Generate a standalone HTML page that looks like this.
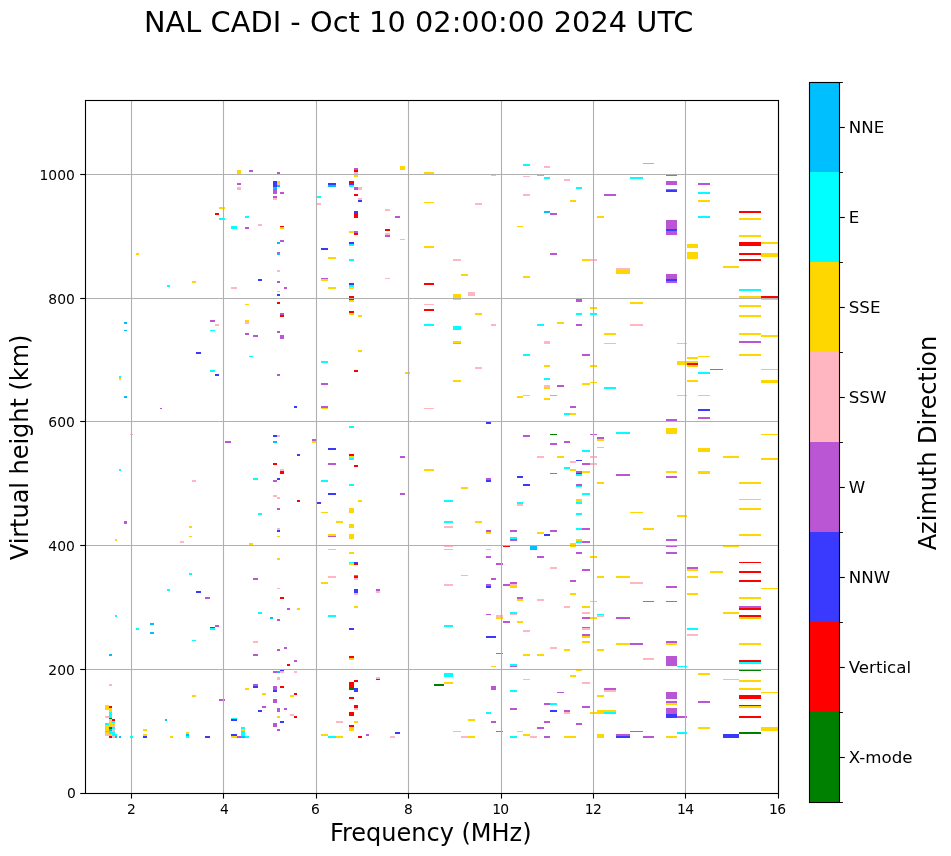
<!DOCTYPE html>
<html lang="en"><head><meta charset="utf-8"><title>NAL CADI - Oct 10 02:00:00 2024 UTC</title>
<style>
html,body{margin:0;padding:0;background:#fff;}
body{width:951px;height:856px;overflow:hidden;}
svg{display:block;}
text{font-family:"DejaVu Sans","Liberation Sans",sans-serif;fill:#000;}
.tk{font-size:13.89px;}
.lab{font-size:24px;}
.ttl{font-size:28.8px;}
.cbt{font-size:16.67px;}
.grid line{stroke:#b0b0b0;stroke-width:1.11;}
.ticks line{stroke:#000;stroke-width:1.11;}
.data rect{shape-rendering:crispEdges;}
</style></head><body>
<svg width="951" height="856" viewBox="0 0 951 856">
<rect x="0" y="0" width="951" height="856" fill="#fff"/>
<text class="ttl" x="418.75" y="31.9" text-anchor="middle" style="letter-spacing:0.033px">NAL CADI - Oct 10 02:00:00 2024 UTC</text>
<g class="data">
<rect x="237" y="170" width="4" height="4" fill="#ffd700"/>
<rect x="237" y="183" width="4" height="2" fill="#ba55d3"/>
<rect x="237" y="187" width="4" height="2" fill="#ffb6c1"/>
<rect x="237" y="189" width="4" height="1" fill="#ffd700"/>
<rect x="219" y="207" width="6" height="2" fill="#ffd700"/>
<rect x="215" y="213" width="4" height="2" fill="#ff0000"/>
<rect x="219" y="218" width="6" height="2" fill="#00ffff"/>
<rect x="231" y="226" width="6" height="3" fill="#00ffff"/>
<rect x="245" y="216" width="4" height="2" fill="#00ffff"/>
<rect x="245" y="227" width="4" height="2" fill="#ba55d3"/>
<rect x="136" y="253" width="3" height="2" fill="#ffd700"/>
<rect x="192" y="281" width="4" height="2" fill="#ffd700"/>
<rect x="167" y="285" width="3" height="2" fill="#00ffff"/>
<rect x="231" y="287" width="6" height="2" fill="#ffb6c1"/>
<rect x="249" y="170" width="4" height="2" fill="#ba55d3"/>
<rect x="277" y="172" width="3" height="2" fill="#ba55d3"/>
<rect x="273" y="181" width="4" height="6" fill="#3a3aff"/>
<rect x="273" y="187" width="4" height="2" fill="#00bfff"/>
<rect x="273" y="189" width="4" height="5" fill="#ba55d3"/>
<rect x="277" y="181" width="3" height="2" fill="#ffd700"/>
<rect x="277" y="183" width="3" height="2" fill="#ffb6c1"/>
<rect x="277" y="185" width="3" height="2" fill="#00bfff"/>
<rect x="280" y="192" width="4" height="2" fill="#ba55d3"/>
<rect x="273" y="196" width="4" height="2" fill="#ba55d3"/>
<rect x="273" y="198" width="4" height="2" fill="#ffb6c1"/>
<rect x="258" y="224" width="4" height="2" fill="#ffb6c1"/>
<rect x="280" y="226" width="4" height="1" fill="#ff0000"/>
<rect x="280" y="227" width="4" height="2" fill="#ffd700"/>
<rect x="280" y="240" width="4" height="2" fill="#ba55d3"/>
<rect x="277" y="242" width="3" height="2" fill="#00bfff"/>
<rect x="277" y="252" width="3" height="1" fill="#ba55d3"/>
<rect x="277" y="253" width="3" height="2" fill="#00bfff"/>
<rect x="277" y="270" width="3" height="2" fill="#ffb6c1"/>
<rect x="258" y="279" width="4" height="2" fill="#3a3aff"/>
<rect x="277" y="281" width="3" height="2" fill="#ba55d3"/>
<rect x="284" y="287" width="3" height="2" fill="#ba55d3"/>
<rect x="277" y="291" width="3" height="1" fill="#ffb6c1"/>
<rect x="277" y="294" width="3" height="2" fill="#3a3aff"/>
<rect x="245" y="304" width="4" height="1" fill="#ffd700"/>
<rect x="277" y="302" width="3" height="2" fill="#ff0000"/>
<rect x="354" y="168" width="4" height="2" fill="#ba55d3"/>
<rect x="354" y="170" width="4" height="2" fill="#ff0000"/>
<rect x="354" y="172" width="4" height="2" fill="#ffb6c1"/>
<rect x="354" y="175" width="4" height="2" fill="#ffd700"/>
<rect x="400" y="166" width="5" height="4" fill="#ffd700"/>
<rect x="349" y="181" width="5" height="2" fill="#ff0000"/>
<rect x="349" y="183" width="5" height="2" fill="#3a3aff"/>
<rect x="349" y="185" width="5" height="2" fill="#00ffff"/>
<rect x="328" y="183" width="8" height="2" fill="#3a3aff"/>
<rect x="328" y="185" width="8" height="2" fill="#00bfff"/>
<rect x="354" y="187" width="4" height="3" fill="#ba55d3"/>
<rect x="358" y="187" width="4" height="3" fill="#ffb6c1"/>
<rect x="354" y="194" width="4" height="2" fill="#ff0000"/>
<rect x="317" y="196" width="4" height="2" fill="#00ffff"/>
<rect x="358" y="198" width="4" height="2" fill="#ffb6c1"/>
<rect x="358" y="200" width="4" height="2" fill="#3a3aff"/>
<rect x="317" y="203" width="4" height="2" fill="#ffb6c1"/>
<rect x="385" y="209" width="5" height="2" fill="#ffb6c1"/>
<rect x="354" y="211" width="4" height="2" fill="#3a3aff"/>
<rect x="354" y="213" width="4" height="5" fill="#ff0000"/>
<rect x="395" y="216" width="5" height="2" fill="#ba55d3"/>
<rect x="385" y="229" width="5" height="2" fill="#ff0000"/>
<rect x="349" y="231" width="5" height="2" fill="#ffd700"/>
<rect x="354" y="231" width="4" height="2" fill="#ba55d3"/>
<rect x="354" y="233" width="4" height="2" fill="#ff0000"/>
<rect x="385" y="233" width="5" height="2" fill="#ffb6c1"/>
<rect x="385" y="235" width="5" height="2" fill="#ba55d3"/>
<rect x="400" y="239" width="5" height="1" fill="#ffd700"/>
<rect x="349" y="242" width="5" height="2" fill="#3a3aff"/>
<rect x="349" y="244" width="5" height="2" fill="#00ffff"/>
<rect x="321" y="248" width="7" height="2" fill="#3a3aff"/>
<rect x="328" y="257" width="8" height="2" fill="#ffd700"/>
<rect x="349" y="259" width="5" height="2" fill="#00ffff"/>
<rect x="321" y="278" width="7" height="1" fill="#ba55d3"/>
<rect x="321" y="279" width="7" height="2" fill="#ffd700"/>
<rect x="385" y="278" width="5" height="1" fill="#ffb6c1"/>
<rect x="349" y="283" width="5" height="2" fill="#3a3aff"/>
<rect x="349" y="285" width="5" height="2" fill="#00ffff"/>
<rect x="349" y="287" width="5" height="2" fill="#ffd700"/>
<rect x="328" y="287" width="8" height="2" fill="#ffd700"/>
<rect x="349" y="296" width="5" height="4" fill="#ff0000"/>
<rect x="349" y="300" width="5" height="2" fill="#ffd700"/>
<rect x="523" y="164" width="7" height="2" fill="#00ffff"/>
<rect x="544" y="166" width="6" height="2" fill="#ffb6c1"/>
<rect x="424" y="172" width="10" height="2" fill="#ffd700"/>
<rect x="491" y="175" width="5" height="1" fill="#ffd700"/>
<rect x="523" y="176" width="7" height="1" fill="#ffb6c1"/>
<rect x="537" y="175" width="7" height="1" fill="#00ffff"/>
<rect x="544" y="177" width="6" height="2" fill="#00ffff"/>
<rect x="564" y="179" width="4" height="2" fill="#ffb6c1"/>
<rect x="523" y="194" width="7" height="2" fill="#ffb6c1"/>
<rect x="424" y="202" width="10" height="1" fill="#ffd700"/>
<rect x="475" y="203" width="7" height="2" fill="#ffb6c1"/>
<rect x="544" y="211" width="6" height="2" fill="#00bfff"/>
<rect x="550" y="213" width="7" height="2" fill="#ba55d3"/>
<rect x="517" y="226" width="6" height="1" fill="#ffd700"/>
<rect x="424" y="246" width="10" height="2" fill="#ffd700"/>
<rect x="550" y="253" width="7" height="2" fill="#ba55d3"/>
<rect x="453" y="259" width="8" height="2" fill="#ffb6c1"/>
<rect x="461" y="274" width="7" height="2" fill="#ffd700"/>
<rect x="523" y="276" width="7" height="2" fill="#ffd700"/>
<rect x="424" y="283" width="10" height="2" fill="#ff0000"/>
<rect x="468" y="292" width="7" height="4" fill="#ffb6c1"/>
<rect x="453" y="294" width="8" height="6" fill="#ffd700"/>
<rect x="424" y="304" width="10" height="1" fill="#ffb6c1"/>
<rect x="564" y="179" width="6" height="2" fill="#ffb6c1"/>
<rect x="576" y="187" width="6" height="2" fill="#00ffff"/>
<rect x="570" y="200" width="6" height="2" fill="#ffd700"/>
<rect x="630" y="177" width="13" height="2" fill="#00ffff"/>
<rect x="604" y="194" width="12" height="2" fill="#ba55d3"/>
<rect x="597" y="216" width="7" height="2" fill="#ffd700"/>
<rect x="666" y="175" width="11" height="1" fill="#ba55d3"/>
<rect x="666" y="181" width="11" height="4" fill="#ba55d3"/>
<rect x="666" y="189" width="11" height="1" fill="#ba55d3"/>
<rect x="666" y="190" width="11" height="2" fill="#3a3aff"/>
<rect x="666" y="220" width="11" height="9" fill="#ba55d3"/>
<rect x="666" y="229" width="11" height="2" fill="#3a3aff"/>
<rect x="666" y="231" width="11" height="4" fill="#ba55d3"/>
<rect x="666" y="274" width="11" height="5" fill="#ba55d3"/>
<rect x="666" y="279" width="11" height="2" fill="#3a3aff"/>
<rect x="666" y="281" width="11" height="2" fill="#ba55d3"/>
<rect x="698" y="183" width="12" height="2" fill="#ba55d3"/>
<rect x="698" y="192" width="12" height="2" fill="#00ffff"/>
<rect x="698" y="200" width="12" height="2" fill="#ffd700"/>
<rect x="698" y="216" width="12" height="2" fill="#00ffff"/>
<rect x="687" y="244" width="11" height="4" fill="#ffd700"/>
<rect x="687" y="252" width="11" height="7" fill="#ffd700"/>
<rect x="723" y="266" width="5" height="2" fill="#ffd700"/>
<rect x="582" y="259" width="8" height="2" fill="#ffd700"/>
<rect x="590" y="259" width="7" height="2" fill="#ffb6c1"/>
<rect x="616" y="268" width="14" height="2" fill="#ffb6c1"/>
<rect x="616" y="270" width="14" height="4" fill="#ffd700"/>
<rect x="576" y="299" width="6" height="3" fill="#ba55d3"/>
<rect x="630" y="302" width="13" height="2" fill="#ffd700"/>
<rect x="739" y="211" width="22" height="2" fill="#ff0000"/>
<rect x="739" y="218" width="22" height="2" fill="#ffd700"/>
<rect x="739" y="235" width="22" height="2" fill="#ffd700"/>
<rect x="739" y="242" width="22" height="4" fill="#ff0000"/>
<rect x="761" y="242" width="17" height="2" fill="#ffd700"/>
<rect x="739" y="253" width="22" height="2" fill="#ff0000"/>
<rect x="761" y="253" width="17" height="4" fill="#ffd700"/>
<rect x="739" y="259" width="22" height="2" fill="#ff0000"/>
<rect x="723" y="266" width="16" height="2" fill="#ffd700"/>
<rect x="739" y="289" width="22" height="2" fill="#00ffff"/>
<rect x="739" y="296" width="22" height="2" fill="#ffd700"/>
<rect x="761" y="296" width="17" height="2" fill="#ff0000"/>
<rect x="761" y="299" width="17" height="1" fill="#ffd700"/>
<rect x="739" y="305" width="22" height="2" fill="#ffd700"/>
<rect x="124" y="322" width="3" height="2" fill="#00bfff"/>
<rect x="124" y="330" width="3" height="1" fill="#00bfff"/>
<rect x="119" y="376" width="2" height="2" fill="#00ffff"/>
<rect x="119" y="378" width="2" height="2" fill="#ffd700"/>
<rect x="124" y="396" width="3" height="2" fill="#00bfff"/>
<rect x="160" y="408" width="2" height="1" fill="#ba55d3"/>
<rect x="130" y="434" width="3" height="1" fill="#ffb6c1"/>
<rect x="210" y="320" width="5" height="2" fill="#ba55d3"/>
<rect x="215" y="324" width="4" height="2" fill="#ffb6c1"/>
<rect x="210" y="330" width="5" height="1" fill="#00ffff"/>
<rect x="196" y="352" width="5" height="2" fill="#3a3aff"/>
<rect x="210" y="370" width="5" height="2" fill="#00ffff"/>
<rect x="215" y="374" width="4" height="2" fill="#3a3aff"/>
<rect x="225" y="441" width="6" height="2" fill="#ba55d3"/>
<rect x="280" y="313" width="4" height="2" fill="#ba55d3"/>
<rect x="280" y="315" width="4" height="2" fill="#ff0000"/>
<rect x="245" y="320" width="4" height="2" fill="#ffd700"/>
<rect x="245" y="322" width="4" height="2" fill="#ffb6c1"/>
<rect x="245" y="333" width="4" height="2" fill="#ba55d3"/>
<rect x="253" y="335" width="5" height="2" fill="#ba55d3"/>
<rect x="277" y="331" width="3" height="2" fill="#ba55d3"/>
<rect x="280" y="335" width="4" height="4" fill="#ba55d3"/>
<rect x="249" y="356" width="4" height="1" fill="#00ffff"/>
<rect x="277" y="374" width="3" height="2" fill="#ba55d3"/>
<rect x="294" y="406" width="3" height="2" fill="#3a3aff"/>
<rect x="273" y="435" width="4" height="2" fill="#3a3aff"/>
<rect x="277" y="435" width="3" height="2" fill="#ffb6c1"/>
<rect x="273" y="441" width="4" height="2" fill="#00bfff"/>
<rect x="312" y="439" width="4" height="2" fill="#ba55d3"/>
<rect x="312" y="441" width="4" height="2" fill="#ffd700"/>
<rect x="349" y="311" width="5" height="2" fill="#ff0000"/>
<rect x="349" y="313" width="5" height="2" fill="#ffd700"/>
<rect x="358" y="315" width="4" height="2" fill="#ffd700"/>
<rect x="358" y="350" width="4" height="2" fill="#ffd700"/>
<rect x="321" y="361" width="7" height="2" fill="#00ffff"/>
<rect x="354" y="370" width="4" height="2" fill="#ff0000"/>
<rect x="321" y="383" width="7" height="2" fill="#ba55d3"/>
<rect x="321" y="406" width="7" height="2" fill="#ba55d3"/>
<rect x="321" y="408" width="7" height="1" fill="#ffd700"/>
<rect x="349" y="426" width="5" height="2" fill="#00ffff"/>
<rect x="328" y="448" width="8" height="2" fill="#3a3aff"/>
<rect x="424" y="309" width="10" height="2" fill="#ff0000"/>
<rect x="475" y="313" width="7" height="2" fill="#ffd700"/>
<rect x="424" y="324" width="10" height="2" fill="#00ffff"/>
<rect x="453" y="326" width="8" height="4" fill="#00ffff"/>
<rect x="491" y="324" width="5" height="2" fill="#ffb6c1"/>
<rect x="453" y="341" width="8" height="2" fill="#ffd700"/>
<rect x="453" y="343" width="8" height="1" fill="#00ffff"/>
<rect x="475" y="367" width="7" height="2" fill="#ffb6c1"/>
<rect x="405" y="372" width="5" height="2" fill="#ffd700"/>
<rect x="453" y="380" width="8" height="2" fill="#ffd700"/>
<rect x="424" y="408" width="10" height="1" fill="#ffb6c1"/>
<rect x="486" y="422" width="5" height="2" fill="#3a3aff"/>
<rect x="537" y="324" width="7" height="2" fill="#00ffff"/>
<rect x="557" y="322" width="7" height="2" fill="#ffd700"/>
<rect x="544" y="341" width="6" height="3" fill="#ffb6c1"/>
<rect x="523" y="354" width="7" height="2" fill="#00ffff"/>
<rect x="544" y="365" width="6" height="2" fill="#ffd700"/>
<rect x="544" y="378" width="6" height="2" fill="#00ffff"/>
<rect x="544" y="385" width="6" height="2" fill="#ffb6c1"/>
<rect x="544" y="387" width="6" height="2" fill="#ffd700"/>
<rect x="557" y="385" width="7" height="2" fill="#ba55d3"/>
<rect x="517" y="396" width="6" height="2" fill="#ffd700"/>
<rect x="523" y="395" width="7" height="1" fill="#ffd700"/>
<rect x="550" y="395" width="7" height="1" fill="#00ffff"/>
<rect x="544" y="398" width="6" height="2" fill="#ffd700"/>
<rect x="564" y="413" width="4" height="2" fill="#00ffff"/>
<rect x="523" y="435" width="7" height="2" fill="#ba55d3"/>
<rect x="550" y="434" width="7" height="1" fill="#008000"/>
<rect x="550" y="443" width="7" height="2" fill="#ba55d3"/>
<rect x="564" y="441" width="4" height="2" fill="#ba55d3"/>
<rect x="590" y="307" width="7" height="2" fill="#ffd700"/>
<rect x="576" y="313" width="6" height="2" fill="#00ffff"/>
<rect x="590" y="313" width="7" height="2" fill="#00ffff"/>
<rect x="576" y="324" width="6" height="2" fill="#ba55d3"/>
<rect x="630" y="324" width="13" height="2" fill="#ffb6c1"/>
<rect x="604" y="333" width="12" height="2" fill="#ffd700"/>
<rect x="604" y="343" width="12" height="1" fill="#ffd700"/>
<rect x="677" y="343" width="10" height="1" fill="#ffd700"/>
<rect x="582" y="354" width="8" height="2" fill="#ba55d3"/>
<rect x="590" y="365" width="7" height="2" fill="#ffd700"/>
<rect x="590" y="382" width="7" height="1" fill="#ffd700"/>
<rect x="582" y="383" width="8" height="2" fill="#ffd700"/>
<rect x="604" y="387" width="12" height="2" fill="#00ffff"/>
<rect x="570" y="406" width="6" height="2" fill="#ba55d3"/>
<rect x="564" y="413" width="6" height="2" fill="#00ffff"/>
<rect x="570" y="413" width="6" height="2" fill="#ffd700"/>
<rect x="687" y="357" width="11" height="2" fill="#ffd700"/>
<rect x="698" y="356" width="12" height="1" fill="#ffd700"/>
<rect x="677" y="361" width="10" height="4" fill="#ffd700"/>
<rect x="687" y="361" width="11" height="2" fill="#ffd700"/>
<rect x="687" y="363" width="11" height="2" fill="#ff0000"/>
<rect x="687" y="365" width="11" height="2" fill="#ffd700"/>
<rect x="710" y="369" width="13" height="1" fill="#ba55d3"/>
<rect x="698" y="372" width="12" height="2" fill="#00ffff"/>
<rect x="687" y="380" width="11" height="2" fill="#ffd700"/>
<rect x="677" y="395" width="10" height="1" fill="#ffd700"/>
<rect x="698" y="395" width="12" height="1" fill="#ffd700"/>
<rect x="698" y="409" width="12" height="2" fill="#3a3aff"/>
<rect x="698" y="417" width="12" height="2" fill="#ba55d3"/>
<rect x="666" y="419" width="11" height="2" fill="#ba55d3"/>
<rect x="666" y="428" width="11" height="6" fill="#ffd700"/>
<rect x="616" y="432" width="14" height="2" fill="#00ffff"/>
<rect x="590" y="434" width="7" height="1" fill="#ba55d3"/>
<rect x="597" y="437" width="7" height="2" fill="#ba55d3"/>
<rect x="597" y="439" width="7" height="2" fill="#ffd700"/>
<rect x="597" y="447" width="7" height="1" fill="#ffd700"/>
<rect x="739" y="315" width="22" height="2" fill="#ffd700"/>
<rect x="739" y="333" width="22" height="2" fill="#ffd700"/>
<rect x="761" y="335" width="17" height="2" fill="#ffd700"/>
<rect x="739" y="341" width="22" height="2" fill="#ba55d3"/>
<rect x="739" y="354" width="22" height="2" fill="#ffd700"/>
<rect x="761" y="369" width="17" height="1" fill="#ffd700"/>
<rect x="761" y="380" width="17" height="3" fill="#ffd700"/>
<rect x="761" y="434" width="17" height="1" fill="#ffd700"/>
<rect x="119" y="469" width="2" height="2" fill="#00ffff"/>
<rect x="192" y="480" width="4" height="2" fill="#ffb6c1"/>
<rect x="124" y="521" width="3" height="3" fill="#ba55d3"/>
<rect x="189" y="526" width="3" height="2" fill="#ffd700"/>
<rect x="189" y="536" width="3" height="1" fill="#ffd700"/>
<rect x="115" y="539" width="2" height="2" fill="#ffd700"/>
<rect x="180" y="541" width="4" height="2" fill="#ffb6c1"/>
<rect x="189" y="573" width="3" height="2" fill="#00ffff"/>
<rect x="167" y="589" width="3" height="2" fill="#00ffff"/>
<rect x="196" y="591" width="5" height="2" fill="#3a3aff"/>
<rect x="297" y="454" width="3" height="2" fill="#3a3aff"/>
<rect x="273" y="463" width="4" height="2" fill="#ff0000"/>
<rect x="280" y="469" width="4" height="2" fill="#ffb6c1"/>
<rect x="280" y="471" width="4" height="3" fill="#ff0000"/>
<rect x="253" y="478" width="5" height="2" fill="#00ffff"/>
<rect x="277" y="478" width="3" height="2" fill="#3a3aff"/>
<rect x="273" y="480" width="4" height="2" fill="#ba55d3"/>
<rect x="273" y="495" width="4" height="2" fill="#ffb6c1"/>
<rect x="277" y="497" width="3" height="2" fill="#ffb6c1"/>
<rect x="297" y="500" width="3" height="2" fill="#ff0000"/>
<rect x="277" y="508" width="3" height="2" fill="#ba55d3"/>
<rect x="258" y="513" width="4" height="2" fill="#00ffff"/>
<rect x="277" y="528" width="3" height="2" fill="#ffb6c1"/>
<rect x="277" y="530" width="3" height="2" fill="#3a3aff"/>
<rect x="277" y="536" width="3" height="1" fill="#ffd700"/>
<rect x="249" y="543" width="4" height="2" fill="#ffd700"/>
<rect x="277" y="558" width="3" height="2" fill="#ffd700"/>
<rect x="253" y="578" width="5" height="2" fill="#ba55d3"/>
<rect x="277" y="588" width="3" height="1" fill="#ffb6c1"/>
<rect x="349" y="454" width="5" height="2" fill="#ff0000"/>
<rect x="349" y="456" width="5" height="2" fill="#ffd700"/>
<rect x="349" y="458" width="5" height="2" fill="#00ffff"/>
<rect x="400" y="456" width="5" height="2" fill="#ba55d3"/>
<rect x="328" y="463" width="8" height="2" fill="#ba55d3"/>
<rect x="354" y="465" width="4" height="2" fill="#ff0000"/>
<rect x="321" y="480" width="7" height="2" fill="#00ffff"/>
<rect x="349" y="484" width="5" height="2" fill="#00ffff"/>
<rect x="328" y="493" width="8" height="2" fill="#3a3aff"/>
<rect x="400" y="493" width="5" height="2" fill="#ba55d3"/>
<rect x="358" y="500" width="4" height="2" fill="#ffd700"/>
<rect x="317" y="502" width="4" height="2" fill="#3a3aff"/>
<rect x="321" y="512" width="7" height="1" fill="#ffd700"/>
<rect x="349" y="508" width="5" height="5" fill="#ffd700"/>
<rect x="336" y="521" width="7" height="2" fill="#ffd700"/>
<rect x="349" y="524" width="5" height="4" fill="#ffd700"/>
<rect x="328" y="534" width="8" height="2" fill="#ffd700"/>
<rect x="328" y="536" width="8" height="1" fill="#ba55d3"/>
<rect x="349" y="534" width="5" height="5" fill="#ffd700"/>
<rect x="328" y="549" width="8" height="1" fill="#ffd700"/>
<rect x="349" y="552" width="5" height="2" fill="#ffd700"/>
<rect x="349" y="562" width="5" height="1" fill="#00ffff"/>
<rect x="349" y="563" width="5" height="2" fill="#ffd700"/>
<rect x="354" y="562" width="4" height="1" fill="#3a3aff"/>
<rect x="354" y="563" width="4" height="2" fill="#ff0000"/>
<rect x="328" y="576" width="8" height="2" fill="#ffb6c1"/>
<rect x="354" y="575" width="4" height="1" fill="#ba55d3"/>
<rect x="354" y="576" width="4" height="2" fill="#ff0000"/>
<rect x="354" y="578" width="4" height="2" fill="#ffb6c1"/>
<rect x="321" y="582" width="7" height="2" fill="#ffd700"/>
<rect x="354" y="589" width="4" height="4" fill="#3a3aff"/>
<rect x="354" y="593" width="4" height="2" fill="#ffb6c1"/>
<rect x="376" y="589" width="4" height="2" fill="#ba55d3"/>
<rect x="376" y="591" width="4" height="2" fill="#ffb6c1"/>
<rect x="424" y="469" width="10" height="2" fill="#ffd700"/>
<rect x="486" y="478" width="5" height="2" fill="#ba55d3"/>
<rect x="486" y="480" width="5" height="2" fill="#3a3aff"/>
<rect x="461" y="487" width="7" height="2" fill="#ffd700"/>
<rect x="444" y="500" width="9" height="2" fill="#00ffff"/>
<rect x="444" y="521" width="9" height="2" fill="#00ffff"/>
<rect x="475" y="521" width="7" height="2" fill="#ffd700"/>
<rect x="444" y="526" width="9" height="2" fill="#ffb6c1"/>
<rect x="486" y="530" width="5" height="2" fill="#ba55d3"/>
<rect x="486" y="532" width="5" height="2" fill="#ffd700"/>
<rect x="444" y="546" width="9" height="1" fill="#ffb6c1"/>
<rect x="444" y="549" width="9" height="1" fill="#ffd700"/>
<rect x="486" y="549" width="5" height="1" fill="#ffd700"/>
<rect x="486" y="556" width="5" height="2" fill="#ba55d3"/>
<rect x="496" y="563" width="7" height="2" fill="#ba55d3"/>
<rect x="461" y="575" width="7" height="1" fill="#ffd700"/>
<rect x="491" y="578" width="5" height="2" fill="#ba55d3"/>
<rect x="444" y="584" width="9" height="2" fill="#ffb6c1"/>
<rect x="486" y="584" width="5" height="2" fill="#ba55d3"/>
<rect x="486" y="586" width="5" height="2" fill="#3a3aff"/>
<rect x="537" y="456" width="7" height="2" fill="#ffb6c1"/>
<rect x="557" y="456" width="7" height="2" fill="#ffd700"/>
<rect x="564" y="467" width="4" height="2" fill="#00ffff"/>
<rect x="550" y="473" width="7" height="1" fill="#ba55d3"/>
<rect x="517" y="476" width="6" height="2" fill="#3a3aff"/>
<rect x="523" y="484" width="7" height="2" fill="#3a3aff"/>
<rect x="517" y="502" width="6" height="2" fill="#00ffff"/>
<rect x="517" y="504" width="6" height="2" fill="#ffb6c1"/>
<rect x="510" y="530" width="7" height="2" fill="#ba55d3"/>
<rect x="550" y="530" width="7" height="2" fill="#ba55d3"/>
<rect x="537" y="532" width="7" height="2" fill="#ffd700"/>
<rect x="544" y="534" width="6" height="2" fill="#3a3aff"/>
<rect x="510" y="537" width="7" height="2" fill="#00ffff"/>
<rect x="510" y="539" width="7" height="2" fill="#ba55d3"/>
<rect x="503" y="546" width="7" height="1" fill="#ff0000"/>
<rect x="530" y="546" width="7" height="4" fill="#00bfff"/>
<rect x="537" y="556" width="7" height="2" fill="#ba55d3"/>
<rect x="550" y="567" width="7" height="2" fill="#ffb6c1"/>
<rect x="503" y="584" width="7" height="2" fill="#ba55d3"/>
<rect x="510" y="582" width="7" height="2" fill="#ba55d3"/>
<rect x="510" y="584" width="7" height="2" fill="#ffb6c1"/>
<rect x="510" y="586" width="7" height="2" fill="#ffd700"/>
<rect x="590" y="456" width="7" height="2" fill="#ffb6c1"/>
<rect x="576" y="460" width="6" height="1" fill="#3a3aff"/>
<rect x="570" y="461" width="6" height="2" fill="#ffb6c1"/>
<rect x="582" y="463" width="8" height="2" fill="#ba55d3"/>
<rect x="590" y="463" width="7" height="2" fill="#ffb6c1"/>
<rect x="564" y="467" width="6" height="2" fill="#00ffff"/>
<rect x="570" y="469" width="6" height="2" fill="#ffd700"/>
<rect x="576" y="471" width="6" height="2" fill="#ba55d3"/>
<rect x="576" y="473" width="6" height="1" fill="#3a3aff"/>
<rect x="576" y="474" width="6" height="2" fill="#00ffff"/>
<rect x="582" y="471" width="8" height="2" fill="#ffd700"/>
<rect x="576" y="484" width="6" height="2" fill="#ba55d3"/>
<rect x="576" y="486" width="6" height="1" fill="#00ffff"/>
<rect x="582" y="493" width="8" height="2" fill="#00ffff"/>
<rect x="576" y="499" width="6" height="3" fill="#ffd700"/>
<rect x="576" y="502" width="6" height="2" fill="#00ffff"/>
<rect x="576" y="513" width="6" height="2" fill="#00ffff"/>
<rect x="576" y="528" width="6" height="2" fill="#00ffff"/>
<rect x="582" y="528" width="8" height="2" fill="#ba55d3"/>
<rect x="576" y="539" width="6" height="2" fill="#ffd700"/>
<rect x="576" y="541" width="6" height="2" fill="#00ffff"/>
<rect x="582" y="541" width="8" height="2" fill="#ba55d3"/>
<rect x="570" y="543" width="6" height="4" fill="#ffd700"/>
<rect x="576" y="552" width="6" height="2" fill="#ba55d3"/>
<rect x="590" y="556" width="7" height="2" fill="#ffd700"/>
<rect x="582" y="569" width="8" height="2" fill="#ba55d3"/>
<rect x="570" y="580" width="6" height="2" fill="#ba55d3"/>
<rect x="570" y="593" width="6" height="2" fill="#ffd700"/>
<rect x="597" y="482" width="7" height="2" fill="#ffd700"/>
<rect x="597" y="576" width="7" height="2" fill="#ffd700"/>
<rect x="616" y="474" width="14" height="2" fill="#ba55d3"/>
<rect x="630" y="512" width="13" height="1" fill="#ffd700"/>
<rect x="643" y="528" width="11" height="2" fill="#ffd700"/>
<rect x="616" y="576" width="14" height="2" fill="#ffd700"/>
<rect x="630" y="582" width="13" height="2" fill="#ffb6c1"/>
<rect x="666" y="471" width="11" height="2" fill="#ffd700"/>
<rect x="666" y="476" width="11" height="2" fill="#ba55d3"/>
<rect x="677" y="515" width="10" height="2" fill="#ffd700"/>
<rect x="666" y="539" width="11" height="2" fill="#ba55d3"/>
<rect x="666" y="546" width="11" height="1" fill="#ba55d3"/>
<rect x="666" y="552" width="11" height="2" fill="#ba55d3"/>
<rect x="666" y="586" width="11" height="2" fill="#ba55d3"/>
<rect x="698" y="471" width="12" height="3" fill="#ffd700"/>
<rect x="687" y="567" width="11" height="2" fill="#ba55d3"/>
<rect x="687" y="569" width="11" height="2" fill="#ffd700"/>
<rect x="710" y="571" width="13" height="2" fill="#ffd700"/>
<rect x="687" y="576" width="11" height="2" fill="#ffd700"/>
<rect x="687" y="593" width="11" height="2" fill="#ffd700"/>
<rect x="723" y="456" width="16" height="2" fill="#ffd700"/>
<rect x="761" y="458" width="17" height="2" fill="#ffd700"/>
<rect x="739" y="482" width="22" height="2" fill="#ffd700"/>
<rect x="739" y="499" width="22" height="1" fill="#ffd700"/>
<rect x="739" y="508" width="22" height="2" fill="#ffd700"/>
<rect x="739" y="534" width="22" height="2" fill="#ffd700"/>
<rect x="723" y="546" width="16" height="1" fill="#ffd700"/>
<rect x="739" y="562" width="22" height="1" fill="#ff0000"/>
<rect x="739" y="571" width="22" height="2" fill="#ff0000"/>
<rect x="739" y="580" width="22" height="2" fill="#ff0000"/>
<rect x="761" y="588" width="17" height="1" fill="#ffd700"/>
<rect x="205" y="597" width="5" height="2" fill="#ba55d3"/>
<rect x="115" y="615" width="2" height="2" fill="#00ffff"/>
<rect x="150" y="623" width="4" height="2" fill="#00bfff"/>
<rect x="136" y="628" width="3" height="2" fill="#00ffff"/>
<rect x="150" y="632" width="4" height="2" fill="#00bfff"/>
<rect x="215" y="625" width="4" height="2" fill="#ba55d3"/>
<rect x="210" y="627" width="5" height="1" fill="#3a3aff"/>
<rect x="210" y="628" width="5" height="2" fill="#00ffff"/>
<rect x="192" y="640" width="4" height="1" fill="#00ffff"/>
<rect x="109" y="654" width="3" height="2" fill="#00bfff"/>
<rect x="109" y="684" width="3" height="2" fill="#ffb6c1"/>
<rect x="192" y="695" width="4" height="2" fill="#ffd700"/>
<rect x="219" y="699" width="6" height="2" fill="#ba55d3"/>
<rect x="165" y="719" width="2" height="2" fill="#00bfff"/>
<rect x="231" y="718" width="6" height="1" fill="#00ffff"/>
<rect x="231" y="719" width="6" height="2" fill="#3a3aff"/>
<rect x="105" y="705" width="4" height="1" fill="#ffb6c1"/>
<rect x="105" y="706" width="4" height="4" fill="#ffd700"/>
<rect x="105" y="716" width="4" height="2" fill="#ffb6c1"/>
<rect x="105" y="723" width="4" height="2" fill="#00ffff"/>
<rect x="105" y="725" width="4" height="6" fill="#ffd700"/>
<rect x="105" y="731" width="4" height="1" fill="#00ffff"/>
<rect x="105" y="732" width="4" height="2" fill="#ffd700"/>
<rect x="105" y="734" width="4" height="2" fill="#ffb6c1"/>
<rect x="109" y="706" width="3" height="2" fill="#ff0000"/>
<rect x="109" y="708" width="3" height="4" fill="#ffd700"/>
<rect x="109" y="712" width="3" height="6" fill="#00ffff"/>
<rect x="109" y="718" width="3" height="1" fill="#008000"/>
<rect x="109" y="719" width="3" height="2" fill="#ffb6c1"/>
<rect x="109" y="721" width="3" height="6" fill="#ffd700"/>
<rect x="109" y="727" width="3" height="2" fill="#008000"/>
<rect x="109" y="729" width="3" height="2" fill="#00bfff"/>
<rect x="109" y="731" width="3" height="3" fill="#00ffff"/>
<rect x="109" y="734" width="3" height="2" fill="#ffd700"/>
<rect x="109" y="736" width="3" height="2" fill="#ff0000"/>
<rect x="112" y="719" width="3" height="2" fill="#ff0000"/>
<rect x="112" y="721" width="3" height="2" fill="#00ffff"/>
<rect x="112" y="723" width="3" height="2" fill="#ffd700"/>
<rect x="112" y="725" width="3" height="2" fill="#ffb6c1"/>
<rect x="112" y="727" width="3" height="2" fill="#00ffff"/>
<rect x="112" y="729" width="3" height="2" fill="#ffb6c1"/>
<rect x="112" y="731" width="3" height="1" fill="#ffd700"/>
<rect x="112" y="732" width="3" height="4" fill="#00ffff"/>
<rect x="112" y="736" width="3" height="2" fill="#ffb6c1"/>
<rect x="115" y="734" width="2" height="2" fill="#00ffff"/>
<rect x="115" y="736" width="2" height="2" fill="#00bfff"/>
<rect x="119" y="736" width="2" height="2" fill="#00bfff"/>
<rect x="130" y="736" width="3" height="2" fill="#00ffff"/>
<rect x="143" y="729" width="4" height="2" fill="#ffd700"/>
<rect x="143" y="734" width="4" height="2" fill="#ffd700"/>
<rect x="143" y="736" width="4" height="2" fill="#3a3aff"/>
<rect x="170" y="736" width="3" height="2" fill="#ffd700"/>
<rect x="186" y="732" width="3" height="2" fill="#ffd700"/>
<rect x="186" y="734" width="3" height="2" fill="#00bfff"/>
<rect x="186" y="736" width="3" height="2" fill="#00ffff"/>
<rect x="205" y="736" width="5" height="2" fill="#3a3aff"/>
<rect x="231" y="734" width="6" height="2" fill="#3a3aff"/>
<rect x="231" y="736" width="6" height="2" fill="#ffd700"/>
<rect x="237" y="736" width="4" height="2" fill="#ba55d3"/>
<rect x="241" y="727" width="4" height="2" fill="#00ffff"/>
<rect x="241" y="729" width="4" height="2" fill="#ffd700"/>
<rect x="241" y="731" width="4" height="5" fill="#00ffff"/>
<rect x="241" y="736" width="4" height="2" fill="#00bfff"/>
<rect x="245" y="736" width="4" height="2" fill="#00ffff"/>
<rect x="287" y="608" width="3" height="2" fill="#ba55d3"/>
<rect x="297" y="608" width="3" height="2" fill="#ffd700"/>
<rect x="258" y="612" width="4" height="2" fill="#00ffff"/>
<rect x="270" y="617" width="3" height="2" fill="#00bfff"/>
<rect x="277" y="619" width="3" height="2" fill="#ba55d3"/>
<rect x="253" y="641" width="5" height="2" fill="#ffb6c1"/>
<rect x="284" y="647" width="3" height="2" fill="#ba55d3"/>
<rect x="277" y="649" width="3" height="2" fill="#ba55d3"/>
<rect x="253" y="654" width="5" height="2" fill="#ba55d3"/>
<rect x="294" y="660" width="3" height="2" fill="#ba55d3"/>
<rect x="287" y="664" width="3" height="2" fill="#ff0000"/>
<rect x="280" y="670" width="4" height="1" fill="#3a3aff"/>
<rect x="273" y="671" width="4" height="2" fill="#ba55d3"/>
<rect x="277" y="671" width="3" height="2" fill="#00bfff"/>
<rect x="280" y="671" width="4" height="2" fill="#ffb6c1"/>
<rect x="294" y="671" width="3" height="2" fill="#ffb6c1"/>
<rect x="277" y="677" width="3" height="3" fill="#ffb6c1"/>
<rect x="253" y="684" width="5" height="2" fill="#ba55d3"/>
<rect x="253" y="686" width="5" height="2" fill="#3a3aff"/>
<rect x="245" y="688" width="4" height="2" fill="#ffd700"/>
<rect x="273" y="686" width="4" height="4" fill="#ba55d3"/>
<rect x="273" y="690" width="4" height="2" fill="#3a3aff"/>
<rect x="280" y="686" width="4" height="2" fill="#ff0000"/>
<rect x="262" y="693" width="4" height="2" fill="#ffd700"/>
<rect x="294" y="693" width="3" height="2" fill="#ff0000"/>
<rect x="290" y="695" width="4" height="2" fill="#ffd700"/>
<rect x="273" y="699" width="4" height="4" fill="#ba55d3"/>
<rect x="262" y="706" width="4" height="2" fill="#ba55d3"/>
<rect x="258" y="710" width="4" height="2" fill="#3a3aff"/>
<rect x="277" y="708" width="3" height="4" fill="#ba55d3"/>
<rect x="284" y="708" width="3" height="2" fill="#ba55d3"/>
<rect x="290" y="714" width="4" height="2" fill="#ffb6c1"/>
<rect x="294" y="716" width="3" height="2" fill="#ff0000"/>
<rect x="277" y="716" width="3" height="2" fill="#ffd700"/>
<rect x="280" y="721" width="4" height="2" fill="#3a3aff"/>
<rect x="273" y="723" width="4" height="4" fill="#ba55d3"/>
<rect x="277" y="729" width="3" height="2" fill="#ba55d3"/>
<rect x="354" y="606" width="4" height="2" fill="#ffd700"/>
<rect x="328" y="615" width="8" height="2" fill="#00ffff"/>
<rect x="349" y="628" width="5" height="2" fill="#3a3aff"/>
<rect x="349" y="656" width="5" height="2" fill="#ff0000"/>
<rect x="349" y="658" width="5" height="2" fill="#ffd700"/>
<rect x="376" y="677" width="4" height="2" fill="#ffb6c1"/>
<rect x="376" y="679" width="4" height="1" fill="#ff0000"/>
<rect x="354" y="680" width="4" height="2" fill="#ff0000"/>
<rect x="349" y="682" width="5" height="6" fill="#ff0000"/>
<rect x="349" y="688" width="5" height="2" fill="#008000"/>
<rect x="354" y="688" width="4" height="4" fill="#3a3aff"/>
<rect x="349" y="697" width="5" height="2" fill="#ff0000"/>
<rect x="354" y="705" width="4" height="3" fill="#ff0000"/>
<rect x="354" y="708" width="4" height="2" fill="#ffb6c1"/>
<rect x="349" y="712" width="5" height="4" fill="#ff0000"/>
<rect x="336" y="721" width="7" height="2" fill="#ffb6c1"/>
<rect x="354" y="721" width="4" height="2" fill="#ffd700"/>
<rect x="349" y="725" width="5" height="2" fill="#ff0000"/>
<rect x="349" y="727" width="5" height="4" fill="#ffd700"/>
<rect x="321" y="734" width="7" height="2" fill="#ffd700"/>
<rect x="328" y="736" width="8" height="2" fill="#00ffff"/>
<rect x="336" y="736" width="7" height="2" fill="#ffd700"/>
<rect x="358" y="736" width="4" height="2" fill="#ff0000"/>
<rect x="366" y="734" width="3" height="2" fill="#ba55d3"/>
<rect x="395" y="732" width="5" height="2" fill="#3a3aff"/>
<rect x="390" y="736" width="5" height="2" fill="#ffb6c1"/>
<rect x="517" y="599" width="6" height="2" fill="#ffd700"/>
<rect x="537" y="599" width="7" height="2" fill="#ffb6c1"/>
<rect x="564" y="606" width="4" height="2" fill="#ffb6c1"/>
<rect x="510" y="612" width="7" height="2" fill="#00ffff"/>
<rect x="510" y="614" width="7" height="1" fill="#ffb6c1"/>
<rect x="486" y="614" width="5" height="1" fill="#ba55d3"/>
<rect x="496" y="615" width="7" height="2" fill="#ffb6c1"/>
<rect x="496" y="617" width="7" height="2" fill="#ffd700"/>
<rect x="503" y="621" width="7" height="2" fill="#ba55d3"/>
<rect x="517" y="621" width="6" height="2" fill="#ffd700"/>
<rect x="444" y="625" width="9" height="2" fill="#00ffff"/>
<rect x="523" y="630" width="7" height="2" fill="#ffb6c1"/>
<rect x="486" y="636" width="10" height="2" fill="#3a3aff"/>
<rect x="550" y="647" width="7" height="2" fill="#ffb6c1"/>
<rect x="564" y="649" width="4" height="2" fill="#ffd700"/>
<rect x="496" y="653" width="7" height="1" fill="#ba55d3"/>
<rect x="523" y="654" width="7" height="2" fill="#ffd700"/>
<rect x="537" y="654" width="7" height="2" fill="#ffd700"/>
<rect x="491" y="666" width="5" height="1" fill="#ffd700"/>
<rect x="510" y="664" width="7" height="2" fill="#00ffff"/>
<rect x="510" y="666" width="7" height="1" fill="#ba55d3"/>
<rect x="444" y="673" width="9" height="4" fill="#00ffff"/>
<rect x="444" y="682" width="9" height="2" fill="#ffd700"/>
<rect x="434" y="684" width="10" height="2" fill="#008000"/>
<rect x="523" y="679" width="7" height="1" fill="#ffb6c1"/>
<rect x="491" y="686" width="5" height="4" fill="#ba55d3"/>
<rect x="510" y="690" width="7" height="2" fill="#00ffff"/>
<rect x="557" y="692" width="7" height="1" fill="#ba55d3"/>
<rect x="544" y="703" width="6" height="2" fill="#ba55d3"/>
<rect x="550" y="703" width="7" height="2" fill="#00ffff"/>
<rect x="510" y="708" width="7" height="2" fill="#ba55d3"/>
<rect x="550" y="710" width="7" height="2" fill="#3a3aff"/>
<rect x="564" y="710" width="4" height="2" fill="#ba55d3"/>
<rect x="564" y="712" width="4" height="2" fill="#ffb6c1"/>
<rect x="486" y="712" width="5" height="2" fill="#00ffff"/>
<rect x="468" y="719" width="7" height="2" fill="#ffd700"/>
<rect x="491" y="721" width="5" height="2" fill="#ba55d3"/>
<rect x="544" y="721" width="6" height="2" fill="#ba55d3"/>
<rect x="537" y="727" width="7" height="2" fill="#ba55d3"/>
<rect x="453" y="731" width="8" height="1" fill="#ffd700"/>
<rect x="496" y="731" width="7" height="1" fill="#ba55d3"/>
<rect x="517" y="731" width="6" height="1" fill="#ffd700"/>
<rect x="523" y="734" width="7" height="2" fill="#ffd700"/>
<rect x="461" y="736" width="7" height="2" fill="#ffb6c1"/>
<rect x="468" y="736" width="7" height="2" fill="#ffd700"/>
<rect x="510" y="736" width="7" height="2" fill="#00ffff"/>
<rect x="530" y="736" width="7" height="2" fill="#ffb6c1"/>
<rect x="544" y="736" width="6" height="2" fill="#ba55d3"/>
<rect x="564" y="736" width="4" height="2" fill="#ffd700"/>
<rect x="590" y="601" width="7" height="1" fill="#ffd700"/>
<rect x="643" y="601" width="11" height="1" fill="#ba55d3"/>
<rect x="666" y="601" width="11" height="1" fill="#ba55d3"/>
<rect x="564" y="606" width="6" height="2" fill="#ffb6c1"/>
<rect x="582" y="606" width="8" height="2" fill="#ffd700"/>
<rect x="582" y="612" width="8" height="2" fill="#ffb6c1"/>
<rect x="597" y="614" width="7" height="1" fill="#00ffff"/>
<rect x="597" y="615" width="7" height="2" fill="#ffb6c1"/>
<rect x="582" y="617" width="8" height="2" fill="#ba55d3"/>
<rect x="590" y="617" width="7" height="2" fill="#ffd700"/>
<rect x="616" y="617" width="14" height="2" fill="#ba55d3"/>
<rect x="582" y="627" width="8" height="1" fill="#ba55d3"/>
<rect x="582" y="628" width="8" height="2" fill="#ffb6c1"/>
<rect x="582" y="634" width="8" height="2" fill="#ba55d3"/>
<rect x="582" y="636" width="8" height="2" fill="#ffd700"/>
<rect x="582" y="641" width="8" height="2" fill="#ffd700"/>
<rect x="687" y="628" width="11" height="2" fill="#00ffff"/>
<rect x="687" y="634" width="11" height="2" fill="#ffb6c1"/>
<rect x="666" y="641" width="11" height="2" fill="#ba55d3"/>
<rect x="666" y="643" width="11" height="2" fill="#ffd700"/>
<rect x="616" y="643" width="14" height="2" fill="#ffd700"/>
<rect x="630" y="643" width="13" height="2" fill="#ba55d3"/>
<rect x="564" y="649" width="6" height="2" fill="#ffd700"/>
<rect x="597" y="649" width="7" height="2" fill="#ffd700"/>
<rect x="643" y="658" width="11" height="2" fill="#ffb6c1"/>
<rect x="666" y="656" width="11" height="10" fill="#ba55d3"/>
<rect x="677" y="666" width="10" height="1" fill="#00ffff"/>
<rect x="576" y="670" width="6" height="1" fill="#ffd700"/>
<rect x="570" y="675" width="6" height="2" fill="#ffd700"/>
<rect x="582" y="682" width="8" height="2" fill="#ffb6c1"/>
<rect x="698" y="673" width="12" height="2" fill="#ffd700"/>
<rect x="604" y="688" width="12" height="2" fill="#ba55d3"/>
<rect x="604" y="690" width="12" height="2" fill="#ffb6c1"/>
<rect x="597" y="695" width="7" height="2" fill="#ffd700"/>
<rect x="666" y="692" width="11" height="7" fill="#ba55d3"/>
<rect x="666" y="701" width="11" height="2" fill="#ba55d3"/>
<rect x="666" y="703" width="11" height="2" fill="#ffd700"/>
<rect x="698" y="701" width="12" height="2" fill="#ba55d3"/>
<rect x="582" y="706" width="8" height="2" fill="#ba55d3"/>
<rect x="564" y="710" width="6" height="2" fill="#ba55d3"/>
<rect x="564" y="712" width="6" height="2" fill="#ffb6c1"/>
<rect x="597" y="710" width="19" height="2" fill="#ffd700"/>
<rect x="590" y="712" width="14" height="2" fill="#ffd700"/>
<rect x="604" y="712" width="12" height="2" fill="#00ffff"/>
<rect x="666" y="708" width="11" height="6" fill="#ba55d3"/>
<rect x="666" y="714" width="11" height="4" fill="#3a3aff"/>
<rect x="677" y="716" width="10" height="2" fill="#ba55d3"/>
<rect x="576" y="723" width="6" height="2" fill="#ba55d3"/>
<rect x="698" y="727" width="12" height="2" fill="#ffd700"/>
<rect x="630" y="731" width="13" height="1" fill="#ba55d3"/>
<rect x="677" y="732" width="10" height="2" fill="#00ffff"/>
<rect x="597" y="734" width="7" height="4" fill="#ffd700"/>
<rect x="616" y="734" width="14" height="2" fill="#ba55d3"/>
<rect x="616" y="736" width="14" height="2" fill="#3a3aff"/>
<rect x="643" y="736" width="11" height="2" fill="#ba55d3"/>
<rect x="666" y="736" width="11" height="2" fill="#ffd700"/>
<rect x="564" y="736" width="12" height="2" fill="#ffd700"/>
<rect x="739" y="606" width="22" height="2" fill="#ba55d3"/>
<rect x="739" y="608" width="22" height="2" fill="#ff0000"/>
<rect x="723" y="612" width="16" height="2" fill="#ffd700"/>
<rect x="739" y="615" width="22" height="2" fill="#ff0000"/>
<rect x="739" y="617" width="22" height="2" fill="#ffd700"/>
<rect x="739" y="643" width="22" height="2" fill="#ffd700"/>
<rect x="739" y="660" width="22" height="2" fill="#ff0000"/>
<rect x="739" y="662" width="22" height="2" fill="#00ffff"/>
<rect x="739" y="670" width="22" height="1" fill="#008000"/>
<rect x="723" y="679" width="16" height="1" fill="#ffd700"/>
<rect x="739" y="680" width="22" height="2" fill="#ffd700"/>
<rect x="739" y="688" width="22" height="2" fill="#ffd700"/>
<rect x="761" y="692" width="17" height="1" fill="#ffd700"/>
<rect x="739" y="695" width="22" height="4" fill="#ff0000"/>
<rect x="739" y="705" width="22" height="1" fill="#ff0000"/>
<rect x="739" y="706" width="22" height="2" fill="#ffd700"/>
<rect x="739" y="716" width="22" height="2" fill="#ff0000"/>
<rect x="761" y="727" width="17" height="4" fill="#ffd700"/>
<rect x="739" y="732" width="22" height="2" fill="#008000"/>
<rect x="723" y="734" width="16" height="4" fill="#3a3aff"/>
<rect x="643" y="163" width="11" height="1" fill="#00ffff"/>
<rect x="698" y="448" width="12" height="4" fill="#ffd700"/>
<rect x="582" y="450" width="8" height="2" fill="#00ffff"/>
<rect x="564" y="441" width="6" height="2" fill="#ba55d3"/>
<rect x="280" y="597" width="4" height="2" fill="#ff0000"/>
<rect x="517" y="597" width="6" height="2" fill="#ba55d3"/>
<rect x="739" y="597" width="22" height="2" fill="#ffd700"/>
</g>
<g class="grid">
<line x1="131.50" y1="100.50" x2="131.50" y2="793.50"/>
<line x1="223.50" y1="100.50" x2="223.50" y2="793.50"/>
<line x1="316.50" y1="100.50" x2="316.50" y2="793.50"/>
<line x1="408.50" y1="100.50" x2="408.50" y2="793.50"/>
<line x1="501.50" y1="100.50" x2="501.50" y2="793.50"/>
<line x1="593.50" y1="100.50" x2="593.50" y2="793.50"/>
<line x1="685.50" y1="100.50" x2="685.50" y2="793.50"/>
<line x1="778.50" y1="100.50" x2="778.50" y2="793.50"/>
<line x1="85.50" y1="793.50" x2="778.50" y2="793.50"/>
<line x1="85.50" y1="669.50" x2="778.50" y2="669.50"/>
<line x1="85.50" y1="545.50" x2="778.50" y2="545.50"/>
<line x1="85.50" y1="421.50" x2="778.50" y2="421.50"/>
<line x1="85.50" y1="298.50" x2="778.50" y2="298.50"/>
<line x1="85.50" y1="174.50" x2="778.50" y2="174.50"/>
</g>
<g class="ticks">
<line x1="131.50" y1="793.50" x2="131.50" y2="798.60"/>
<line x1="223.50" y1="793.50" x2="223.50" y2="798.60"/>
<line x1="316.50" y1="793.50" x2="316.50" y2="798.60"/>
<line x1="408.50" y1="793.50" x2="408.50" y2="798.60"/>
<line x1="501.50" y1="793.50" x2="501.50" y2="798.60"/>
<line x1="593.50" y1="793.50" x2="593.50" y2="798.60"/>
<line x1="685.50" y1="793.50" x2="685.50" y2="798.60"/>
<line x1="778.50" y1="793.50" x2="778.50" y2="798.60"/>
<line x1="80.20" y1="793.50" x2="85.50" y2="793.50"/>
<line x1="80.20" y1="669.50" x2="85.50" y2="669.50"/>
<line x1="80.20" y1="545.50" x2="85.50" y2="545.50"/>
<line x1="80.20" y1="421.50" x2="85.50" y2="421.50"/>
<line x1="80.20" y1="298.50" x2="85.50" y2="298.50"/>
<line x1="80.20" y1="174.50" x2="85.50" y2="174.50"/>
</g>
<text class="tk" x="131.40" y="813.80" text-anchor="middle">2</text>
<text class="tk" x="224.50" y="813.80" text-anchor="middle">4</text>
<text class="tk" x="315.50" y="813.80" text-anchor="middle">6</text>
<text class="tk" x="408.50" y="813.80" text-anchor="middle">8</text>
<text class="tk" x="500.35" y="813.80" text-anchor="middle" style="letter-spacing:-0.7px">10</text>
<text class="tk" x="592.90" y="813.80" text-anchor="middle" style="letter-spacing:-0.7px">12</text>
<text class="tk" x="685.15" y="813.80" text-anchor="middle" style="letter-spacing:-0.7px">14</text>
<text class="tk" x="777.15" y="813.80" text-anchor="middle" style="letter-spacing:-0.7px">16</text>
<text class="tk" x="75.80" y="797.80" text-anchor="end">0</text>
<text class="tk" x="74.80" y="674.80" text-anchor="end">200</text>
<text class="tk" x="74.80" y="550.80" text-anchor="end">400</text>
<text class="tk" x="74.80" y="426.80" text-anchor="end">600</text>
<text class="tk" x="74.80" y="303.80" text-anchor="end">800</text>
<text class="tk" x="74.80" y="179.80" text-anchor="end">1000</text>
<rect x="85.50" y="100.50" width="693.00" height="693.00" fill="none" stroke="#000" stroke-width="1.11"/>
<text class="lab" x="430.75" y="840.90" text-anchor="middle">Frequency (MHz)</text>
<text class="lab" transform="translate(28.10,447.45) rotate(-90)" text-anchor="middle" style="letter-spacing:-0.035px">Virtual height (km)</text>
<g class="cbar">
<rect x="809.50" y="82.00" width="30.00" height="90.00" fill="#00bfff" shape-rendering="crispEdges"/>
<rect x="809.50" y="172.00" width="30.00" height="90.00" fill="#00ffff" shape-rendering="crispEdges"/>
<rect x="809.50" y="262.00" width="30.00" height="90.00" fill="#ffd700" shape-rendering="crispEdges"/>
<rect x="809.50" y="352.00" width="30.00" height="90.00" fill="#ffb6c1" shape-rendering="crispEdges"/>
<rect x="809.50" y="442.00" width="30.00" height="90.00" fill="#ba55d3" shape-rendering="crispEdges"/>
<rect x="809.50" y="532.00" width="30.00" height="90.00" fill="#3a3aff" shape-rendering="crispEdges"/>
<rect x="809.50" y="622.00" width="30.00" height="90.00" fill="#ff0000" shape-rendering="crispEdges"/>
<rect x="809.50" y="712.00" width="30.00" height="90.50" fill="#008000" shape-rendering="crispEdges"/>
<rect x="809.50" y="82.50" width="30.00" height="720.00" fill="none" stroke="#000" stroke-width="1.11"/>
</g>
<g class="ticks">
<line x1="839.50" y1="82.50" x2="842.90" y2="82.50" style="stroke-width:0.95"/>
<line x1="839.50" y1="172.50" x2="842.90" y2="172.50" style="stroke-width:0.95"/>
<line x1="839.50" y1="262.50" x2="842.90" y2="262.50" style="stroke-width:0.95"/>
<line x1="839.50" y1="352.50" x2="842.90" y2="352.50" style="stroke-width:0.95"/>
<line x1="839.50" y1="442.50" x2="842.90" y2="442.50" style="stroke-width:0.95"/>
<line x1="839.50" y1="532.50" x2="842.90" y2="532.50" style="stroke-width:0.95"/>
<line x1="839.50" y1="622.50" x2="842.90" y2="622.50" style="stroke-width:0.95"/>
<line x1="839.50" y1="712.50" x2="842.90" y2="712.50" style="stroke-width:0.95"/>
<line x1="839.50" y1="802.50" x2="842.90" y2="802.50" style="stroke-width:0.95"/>
<line x1="839.50" y1="127.50" x2="844.80" y2="127.50"/>
<line x1="839.50" y1="217.50" x2="844.80" y2="217.50"/>
<line x1="839.50" y1="307.50" x2="844.80" y2="307.50"/>
<line x1="839.50" y1="397.50" x2="844.80" y2="397.50"/>
<line x1="839.50" y1="487.50" x2="844.80" y2="487.50"/>
<line x1="839.50" y1="577.50" x2="844.80" y2="577.50"/>
<line x1="839.50" y1="667.50" x2="844.80" y2="667.50"/>
<line x1="839.50" y1="757.50" x2="844.80" y2="757.50"/>
</g>
<text class="cbt" x="848.75" y="133.40">NNE</text>
<text class="cbt" x="848.75" y="223.40">E</text>
<text class="cbt" x="848.75" y="313.40">SSE</text>
<text class="cbt" x="848.75" y="403.40">SSW</text>
<text class="cbt" x="848.75" y="493.40">W</text>
<text class="cbt" x="848.75" y="583.40">NNW</text>
<text class="cbt" x="848.75" y="673.40">Vertical</text>
<text class="cbt" x="848.75" y="763.40">X-mode</text>
<text class="lab" transform="translate(936.10,443.07) rotate(-90)" text-anchor="middle" style="letter-spacing:-0.028px">Azimuth Direction</text>
</svg>
</body></html>
